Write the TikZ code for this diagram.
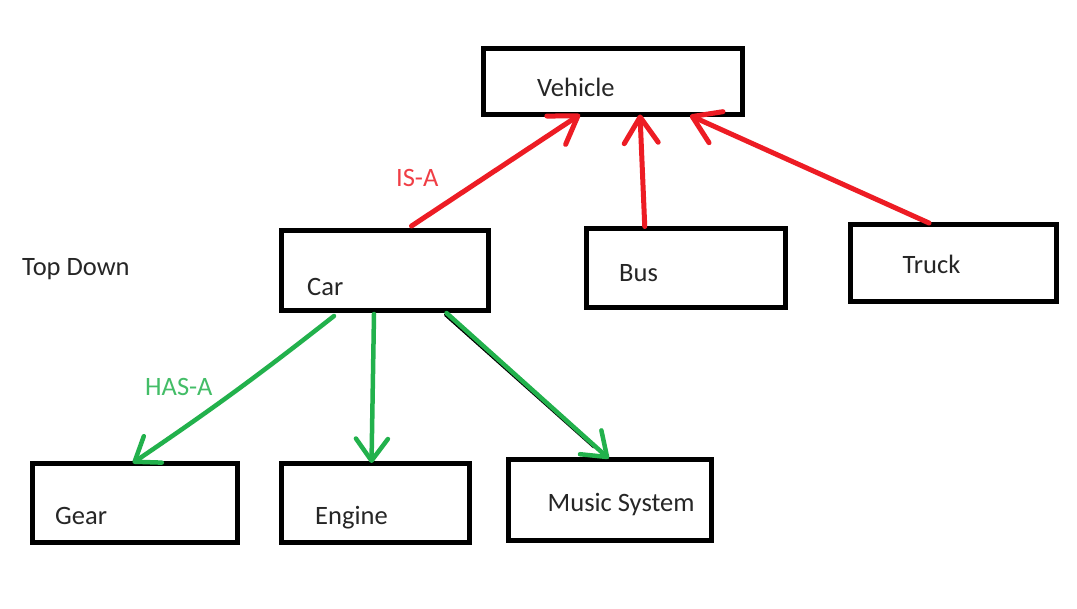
\documentclass[tikz,border=0pt]{standalone}
\usepackage{fontspec}
\setmainfont{Carlito}
\usetikzlibrary{arrows.meta}
\definecolor{isared}{HTML}{ED1C24}
\definecolor{hasgreen}{HTML}{22B14C}
\definecolor{txtgray}{HTML}{262626}
\tikzset{
  box/.style={draw=black, line width=5pt, rectangle, inner sep=0pt, outer sep=0pt},
  lbl/.style={anchor=base west, inner sep=0pt, text=txtgray, font=\fontsize{26.5}{31}\selectfont},
  isalbl/.style={lbl, text=isared!85!white},
  haslbl/.style={lbl, text=hasgreen!85!white},
  isa/.style={draw=isared, line width=5pt, line cap=round,
    -{Straight Barb[length=26pt,width=34pt,line cap=round,line join=round]}},
  hasa/.style={draw=hasgreen, line width=4.5pt, line cap=round,
    -{Straight Barb[length=22pt,width=32pt,line cap=round,line join=round]}},
  shadow/.style={draw=black, line width=3pt, line cap=round}
}
\begin{document}
\begin{tikzpicture}[x=1pt,y=-1pt]
\fill[white] (0,0) rectangle (1077,609);
\useasboundingbox (0,0) rectangle (1077,609);

% boxes
\node[box, minimum width=259pt, minimum height=65.5pt] (vehicle) at (613,81.75) {};
\node[box, minimum width=207pt, minimum height=80pt] (car) at (384.5,271) {};
\node[box, minimum width=198.5pt, minimum height=79pt] (bus) at (685.75,268) {};
\node[box, minimum width=206pt, minimum height=77pt] (truck) at (953,263.5) {};
\node[box, minimum width=205.5pt, minimum height=78.5pt] (gear) at (134.75,503.25) {};
\node[box, minimum width=188pt, minimum height=79pt] (engine) at (375,503) {};
\node[box, minimum width=202.5pt, minimum height=80pt] (music) at (609.75,500) {};

% texts
\node[lbl] (vehicleT) at (537,97) {Vehicle};
\node[lbl] (carT) at (307,296) {Car};
\node[lbl] (busT) at (619,281.7) {Bus};
\node[lbl] (truckT) at (902.5,273.3) {Truck};
\node[lbl] (gearT) at (55,524.3) {Gear};
\node[lbl] (engineT) at (315,524.3) {Engine};
\node[lbl] (musicT) at (547.5,511.7) {Music System};
\node[lbl] (topdown) at (22,275.7) {Top Down};
\node[isalbl] (isaT) at (396,186.7) {IS-A};
\node[haslbl] (hasaT) at (145,396) {HAS-A};

% IS-A arrows
\draw[isa] ([xshift=27pt,yshift=5pt]car.north) -- ([xshift=-33pt]vehicle.south);
\draw[isa] ([xshift=-41pt,yshift=2pt]bus.north) -- ([xshift=27pt]vehicle.south);
\draw[isa] ([xshift=-24pt,yshift=2pt]truck.north) -- ([xshift=77pt,yshift=-1pt]vehicle.south);

% HAS-A arrows
\draw[shadow] ([xshift=60.8pt,yshift=-3.8pt]car.south) -- ([xshift=-15.8pt,yshift=13pt]music.north);
\draw[hasa] ([xshift=-50.5pt,yshift=-5pt]car.south) to[bend left=2] ([xshift=-2pt,yshift=1pt]gear.north);
\draw[hasa] ([xshift=-10.5pt,yshift=-3pt]car.south) -- ([xshift=-3.5pt,yshift=0.5pt]engine.north);
\draw[hasa] ([xshift=62pt,yshift=-2pt]car.south) -- ([xshift=-1pt,yshift=1.5pt]music.north);
\end{tikzpicture}
\end{document}
